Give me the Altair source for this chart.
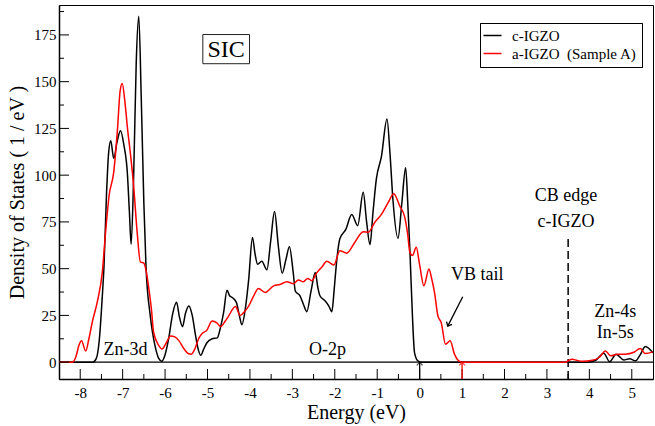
import altair as alt
import pandas as pd

# ---- data ----
c_E = [-8.5, -7.70, -7.62, -7.55, -7.48, -7.44, -7.38, -7.33, -7.28, -7.21, -7.13, -7.05, -6.97, -6.89,
       -6.84, -6.80, -6.74, -6.68, -6.62, -6.56, -6.50, -6.45, -6.35, -6.23, -6.15, -6.08, -6.00, -5.92,
       -5.82, -5.73, -5.66, -5.59, -5.52, -5.44, -5.36, -5.28, -5.22, -5.16, -5.09, -5.01, -4.89, -4.77,
       -4.70, -4.62, -4.54, -4.48, -4.42, -4.32, -4.25, -4.19, -4.10, -4.03, -3.94, -3.88, -3.82, -3.72,
       -3.60, -3.51, -3.42, -3.33, -3.24, -3.15, -3.07, -2.98, -2.93, -2.82, -2.74, -2.66, -2.56, -2.46,
       -2.40, -2.35, -2.23, -2.14, -2.07, -2.01, -1.96, -1.88, -1.74, -1.60, -1.46, -1.33, -1.25, -1.17,
       -1.10, -1.02, -0.90, -0.77, -0.70, -0.63, -0.51, -0.42, -0.33, -0.28, -0.23, -0.17, -0.12, -0.04,
       0.05, 3.95, 4.15, 4.34, 4.48, 4.63, 4.81, 4.95, 5.09, 5.20, 5.32, 5.5]
c_V = [0, 0, 2, 12, 35, 51, 90, 112, 118.4, 109, 118, 123.8, 116, 101.6,
       80, 63, 100, 160, 185, 140, 85, 51.5, 25, 8, 2, 0.5, 4, 12,
       26, 32, 24, 19, 26, 30, 25, 14, 7, 3.7, 7, 10.5, 12.5, 13,
       18, 26.6, 38.5, 35.5, 34.6, 32, 25, 20, 30, 44, 66.7, 58, 52.4, 54,
       49.4, 65, 80.6, 62, 47.6, 55, 61.7, 48, 38, 35.5, 31, 27, 38, 48,
       40, 35.5, 32.8, 30, 27, 40, 53, 66, 71, 79, 73, 90.8, 75, 62.8,
       80, 98, 110, 130, 112, 87, 66.3, 85, 104, 85, 60, 24.8, 5, 0.7,
       0, 0, 1, 4.8, 0.2, 4.3, 1.2, 1.8, 0.7, 4, 8.4, 5]

a_E = [-8.5, -8.18, -8.10, -8.03, -7.97, -7.87, -7.80, -7.71, -7.60, -7.48, -7.40, -7.32, -7.21, -7.12,
       -7.06, -7.01, -6.95, -6.89, -6.80, -6.74, -6.66, -6.58, -6.50, -6.44, -6.38, -6.32, -6.27, -6.15,
       -6.07, -5.98, -5.87, -5.77, -5.67, -5.55, -5.44, -5.38, -5.30, -5.20, -5.12, -5.02, -4.89, -4.78,
       -4.69, -4.58, -4.50, -4.34, -4.23, -4.13, -4.03, -3.92, -3.80, -3.64, -3.44, -3.29, -3.13, -2.97,
       -2.86, -2.74, -2.64, -2.54, -2.43, -2.30, -2.19, -2.02, -1.88, -1.72, -1.53, -1.33, -1.21, -1.06,
       -0.90, -0.74, -0.61, -0.47, -0.35, -0.28, -0.23, -0.17, -0.08, 0.00, 0.10, 0.22, 0.28, 0.35,
       0.43, 0.51, 0.61, 0.72, 0.82, 0.92, 1.00, 3.45, 3.52, 3.60, 3.70, 3.83, 4.07, 4.23, 4.38, 4.50,
       4.66, 4.85, 5.05, 5.20, 5.32, 5.5]
a_V = [0, 0, 3, 9, 11.4, 6, 12, 22, 32, 48, 70, 89, 101.6, 125,
       145, 149, 140, 126, 108, 94, 70, 53.5, 53, 48, 39, 28, 16, 9,
       7, 10, 14, 13.5, 11.4, 7, 4.5, 4.3, 7, 13, 15.5, 17, 22, 21,
       19, 22, 24.8, 29.8, 25, 27, 30, 35, 39.4, 37.3, 40.8, 41.5, 43, 42,
       44, 43, 44.8, 43.6, 47.6, 51, 54, 52, 59.6, 58.3, 64, 69.7, 69.5, 74.7,
       79, 85.4, 90, 83.6, 77.4, 68, 58.7, 57, 61.4, 52, 40.8, 49.8, 45, 37.3,
       24.8, 21, 9.6, 11.4, 4.3, 0.7, 0, 0, 1, 1.5, 1, 0.5, 1, 2.5, 6, 3.4,
       4.3, 4.3, 5.3, 7.3, 4.6, 5.5]

series_names = ["c-IGZO", "a-IGZO \u00a0(Sample A)"]
series_colors = ["black", "red"]

x_major = [-8, -7, -6, -5, -4, -3, -2, -1, 0, 1, 2, 3, 4, 5]
x_minor = [-7.5, -6.5, -5.5, -4.5, -3.5, -2.5, -1.5, -0.5, 0.5, 1.5, 2.5, 3.5, 4.5]
y_major = [0, 25, 50, 75, 100, 125, 150, 175]
y_minor = [12.5, 37.5, 62.5, 87.5, 112.5, 137.5, 162.5, 187.5]

labels_text = ["SIC", "CB edge", "c-IGZO", "VB tail", "Zn-3d", "O-2p", "Zn-4s", "In-5s"]
labels_E = [-4.56, 3.45, 3.45, 1.36, -6.93, -2.17, 4.61, 4.61]
labels_V = [167.0, 89.0, 75.0, 46.6, 6.5, 6.5, 27.0, 15.6]
labels_size = [24, 18, 18, 18, 18, 18, 18, 18]

edge_E = 3.5
edge_top = 68
vbm_c = 0.0
vbm_a = 1.0

FONT = "Liberation Serif"

x_scale = alt.Scale(domain=[-8.5, 5.5], nice=False, zero=False)
y_scale = alt.Scale(domain=[-9, 191], nice=False, zero=False)
x_axis = alt.Axis(values=x_major, labelExpr="'' + datum.value", ticks=False, grid=False,
                  title="Energy (eV)", labelPadding=6, titlePadding=2,
                  labelFont=FONT, labelFontSize=15, labelColor="black",
                  titleFont=FONT, titleFontSize=20, titleFontWeight="normal", titleColor="black")
y_axis = alt.Axis(values=y_major, ticks=False, grid=False,
                  title="Density of States ( 1 / eV )", labelPadding=3, titlePadding=6,
                  labelFont=FONT, labelFontSize=15, labelColor="black",
                  titleFont=FONT, titleFontSize=20, titleFontWeight="normal", titleColor="black")


def X(field="E"):
    return alt.X(f"{field}:Q", scale=x_scale, axis=x_axis)


def Y(field="V"):
    return alt.Y(f"{field}:Q", scale=y_scale, axis=y_axis)


color = alt.Color(
    "series:N",
    scale=alt.Scale(domain=series_names, range=series_colors),
    legend=alt.Legend(title=None, orient="none", legendX=421, legendY=18,
                      symbolType="M-2,0H2", symbolSize=81, symbolStrokeWidth=1.5,
                      labelFont=FONT, labelFontSize=15, labelColor="black",
                      strokeColor="black", fillColor="white", padding=5,
                      labelOffset=12, rowPadding=2, cornerRadius=0),
)

df_c = pd.DataFrame({"E": c_E, "V": c_V, "series": series_names[0]})
df_a = pd.DataFrame({"E": a_E, "V": a_V, "series": series_names[1]})

zero = alt.Chart(pd.DataFrame({"V": [0]})).mark_rule(color="black", strokeWidth=1.2).encode(y=Y())

line_c = alt.Chart(df_c).mark_line(strokeWidth=1.5, interpolate="monotone").encode(x=X(), y=Y(), color=color)
line_a = alt.Chart(df_a).mark_line(strokeWidth=1.5, interpolate="monotone").encode(x=X(), y=Y(), color=color)

xt_major = alt.Chart(pd.DataFrame({"E": x_major})).mark_rule(color="black", strokeWidth=1).encode(
    x=X(), y=alt.value(374), y2=alt.value(364))
xt_minor = alt.Chart(pd.DataFrame({"E": x_minor})).mark_rule(color="black", strokeWidth=1).encode(
    x=X(), y=alt.value(374), y2=alt.value(369))
yt_major = alt.Chart(pd.DataFrame({"V": y_major})).mark_rule(color="black", strokeWidth=1).encode(
    y=Y(), x=alt.value(0), x2=alt.value(10))
yt_minor = alt.Chart(pd.DataFrame({"V": y_minor})).mark_rule(color="black", strokeWidth=1).encode(
    y=Y(), x=alt.value(0), x2=alt.value(5))

# CB edge dashed line
edge = alt.Chart(pd.DataFrame({"E": [edge_E], "V": [-9], "V2": [edge_top]})).mark_rule(
    color="black", strokeWidth=1.5, strokeDash=[8, 4]).encode(x=X(), y=Y(), y2="V2:Q")

# up arrows at band edges
arrows_df = pd.DataFrame({"E": [vbm_c, vbm_a], "V": [-9, -9], "V2": [0, 0], "c": ["black", "red"]})
arrow_shafts = alt.Chart(arrows_df).mark_rule(strokeWidth=1.3).encode(
    x=X(), y=Y(), y2="V2:Q", color=alt.Color("c:N", scale=None, legend=None))
chevron = "M-0.8,0.9L0,0L0.8,0.9"
arrow_heads = alt.Chart(arrows_df).mark_point(shape=chevron, filled=False, size=50, strokeWidth=1.3).encode(
    x=X(), y=alt.Y("V2:Q", scale=y_scale, axis=y_axis), color=alt.Color("c:N", scale=None, legend=None))

# VB tail arrow
vb_df = pd.DataFrame({"E": [1.016], "V": [35.0], "E2": [0.662], "V2": [19.3]})
vb_shaft = alt.Chart(vb_df).mark_rule(color="black", strokeWidth=1.3).encode(
    x=X(), y=Y(), x2="E2:Q", y2="V2:Q")
vb_head = alt.Chart(vb_df).mark_point(shape=chevron, filled=False, size=60, strokeWidth=1.3,
                                      color="black", angle=207, opacity=1).encode(
    x=alt.X("E2:Q", scale=x_scale, axis=x_axis), y=alt.Y("V2:Q", scale=y_scale, axis=y_axis))

# SIC box
box = alt.Chart(pd.DataFrame({"E": [-5.11], "E2": [-4.01], "V": [159.6], "V2": [175.2]})).mark_rect(
    fill="white", stroke="#222", strokeWidth=1).encode(x=X(), x2="E2:Q", y=Y(), y2="V2:Q")

lab_df = pd.DataFrame({"E": labels_E, "V": labels_V, "t": labels_text, "s": labels_size})
texts = alt.Chart(lab_df).mark_text(font=FONT, color="black", align="center", baseline="middle").encode(
    x=X(), y=Y(), text="t:N", size=alt.Size("s:Q", scale=None, legend=None))

chart = alt.layer(
    zero, edge, line_c, line_a, xt_major, xt_minor, yt_major, yt_minor,
    arrow_shafts, arrow_heads, vb_shaft, vb_head, box, texts
).resolve_scale(color="independent").properties(
    width=594, height=374,
    padding={"left": 59, "top": 5, "right": 2, "bottom": 47},
    autosize=alt.AutoSizeParams(type="none"),
    background="white",
).configure_view(stroke="black", strokeWidth=1).configure_axis(
    domainColor="black", domainWidth=1.5, labelFont=FONT, labelFontSize=15, labelColor="black",
    titleFont=FONT, titleFontSize=20, titleFontWeight="normal", titleColor="black",
).configure_legend(labelFont=FONT)

chart.save("out.html", embed_options={"renderer": "svg", "actions": False})
